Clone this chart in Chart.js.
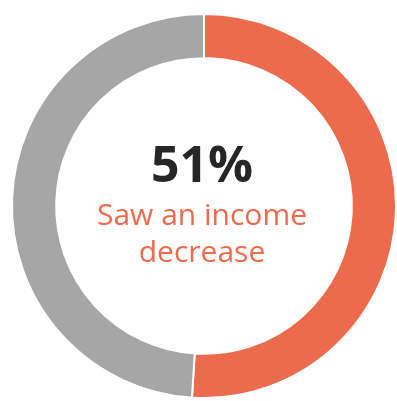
<!DOCTYPE html>
<html>
<head>
<meta charset="utf-8">
<script src="https://cdn.jsdelivr.net/npm/chart.js@4/dist/chart.umd.min.js"></script>
<style>
  html, body { margin: 0; padding: 0; background: #ffffff; }
  #wrap { width: 397px; height: 401px; position: relative; }
</style>
</head>
<body>
<div id="wrap"><canvas id="chart"></canvas></div>
<script>
// Share of respondents whose income went down vs. everyone else
const categories = ['Saw an income decrease', 'Other'];
const shares = [51, 49];
const sliceColors = ['#EC6B4D', '#A6A6A6'];
const headline = '51%';
const captionLines = ['Saw an income', 'decrease'];

// Writes the headline figure and caption inside the ring
const centerText = {
  id: 'centerText',
  afterDraw(chart) {
    const { ctx } = chart;
    const arc = chart.getDatasetMeta(0).data[0];
    const cx = arc.x;
    const cy = arc.y;
    ctx.save();
    ctx.textAlign = 'center';
    ctx.textBaseline = 'alphabetic';
    ctx.fillStyle = '#262626';
    ctx.font = 'bold 50px "Open Sans", sans-serif';
    ctx.fillText(headline, cx - 2, cy - 24);
    ctx.fillStyle = '#EC6B4D';
    ctx.font = '30px "Open Sans", sans-serif';
    captionLines.forEach((line, i) => {
      ctx.fillText(line, cx - 2, cy + 19 + i * 37);
    });
    ctx.restore();
  }
};

new Chart(document.getElementById('chart'), {
  type: 'doughnut',
  data: {
    labels: categories,
    datasets: [{
      data: shares,
      backgroundColor: sliceColors,
      borderColor: '#ffffff',
      borderWidth: 2,
      hoverOffset: 0
    }]
  },
  options: {
    responsive: true,
    maintainAspectRatio: false,
    animation: false,
    cutout: '77%',
    layout: { padding: { left: 11, top: 11, right: 0, bottom: 0 } },
    plugins: {
      legend: { display: false },
      tooltip: { enabled: false }
    }
  },
  plugins: [centerText]
});
</script>
</body>
</html>
